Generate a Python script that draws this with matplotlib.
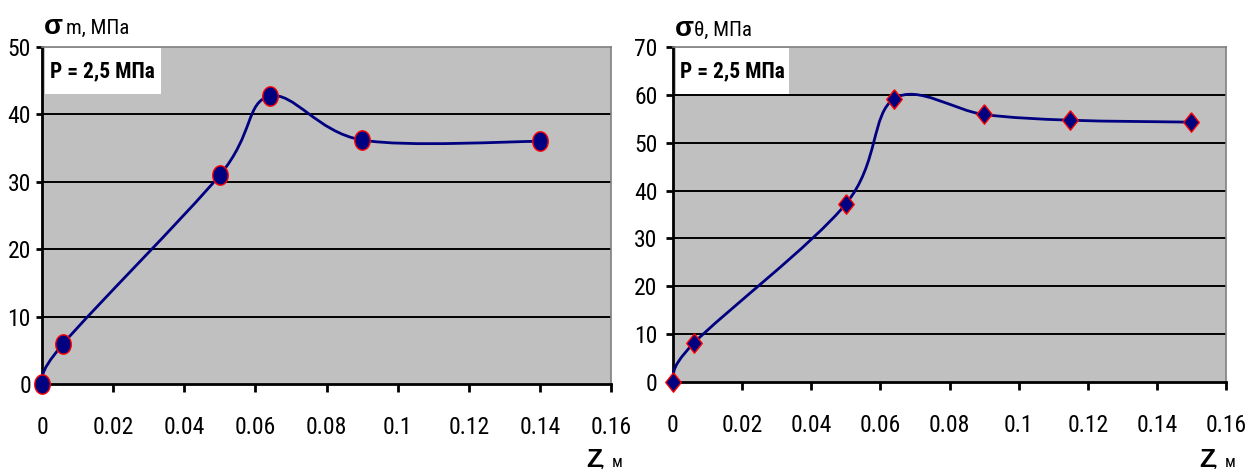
import numpy as np
import matplotlib
matplotlib.use('Agg')
import matplotlib.pyplot as plt
from matplotlib import font_manager
from matplotlib.path import Path
from matplotlib.patches import PathPatch, Rectangle

# data
z_m = [0.0, 0.006, 0.05, 0.064, 0.09, 0.14]
sigma_m = [0.0, 6.0, 31.0, 42.7, 36.2, 36.0]

z_t = [0.0, 0.006, 0.05, 0.064, 0.09, 0.115, 0.15]
sigma_t = [0.0, 8.1, 37.2, 59.2, 55.9, 54.7, 54.3]

x_ticks = [0, 0.02, 0.04, 0.06, 0.08, 0.1, 0.12, 0.14, 0.16]
x_labels = ['0', '0.02', '0.04', '0.06', '0.08', '0.1', '0.12', '0.14', '0.16']
yticks_m = [0, 10, 20, 30, 40, 50]
yticks_t = [0, 10, 20, 30, 40, 50, 60, 70]
box_text = 'P = 2,5 МПа'

W, H = 1256, 470
NAVY = '#000080'
GREY = '#C0C0C0'

# look for a narrow font like excel's arial narrow, fall back to liberation sans
names = {f.name for f in font_manager.fontManager.ttflist}
cond_dejavu = any(f.name == 'DejaVu Sans' and f.stretch == 'condensed'
                  for f in font_manager.fontManager.ttflist)
NARROW = dict(family=['Liberation Sans', 'DejaVu Sans'])
tick_size = 15
for cand in ['Liberation Sans Narrow', 'Roboto Condensed', 'Open Sans Condensed']:
    if cand in names:
        NARROW = dict(family=[cand, 'DejaVu Sans'])
        tick_size = 17
        break
else:
    if cond_dejavu:
        NARROW = dict(family=['DejaVu Sans'], stretch='condensed')
        tick_size = 15
BOLD = ['Liberation Sans', 'DejaVu Sans']


def px(x, y):
    # pixel position -> figure fraction
    return x / W, 1 - y / H


def smooth_path(x, y):
    # excel-like smoothed line: cubic bezier through every point
    pts = np.column_stack([x, y])
    n = len(pts)
    verts = [pts[0]]
    codes = [Path.MOVETO]
    for i in range(n - 1):
        p0 = pts[max(i - 1, 0)]
        p1 = pts[i]
        p2 = pts[i + 1]
        p3 = pts[min(i + 2, n - 1)]
        verts += [p1 + (p2 - p0) / 6, p2 - (p3 - p1) / 6, p2]
        codes += [Path.CURVE4] * 3
    return Path(verts, codes)


def setup(ax, yticks, ytick_len, ypad):
    ax.set_facecolor(GREY)
    ax.set_xlim(0, 0.16)
    ax.set_ylim(yticks[0], yticks[-1])
    ax.set_xticks(x_ticks)
    ax.set_xticklabels(x_labels, fontsize=tick_size, **NARROW)
    ax.set_yticks(yticks)
    ax.set_yticklabels([str(v) for v in yticks], fontsize=tick_size, **NARROW)
    ax.tick_params(axis='x', direction='out', length=6, width=2, pad=17)
    ax.tick_params(axis='y', direction='out', length=ytick_len, width=2, pad=ypad)
    for s in ['left', 'bottom']:
        ax.spines[s].set_color('black')
        ax.spines[s].set_linewidth(2)
    for s in ['top', 'right']:
        ax.spines[s].set_color('#808080')
        ax.spines[s].set_linewidth(1.2)
    for v in yticks[1:-1]:
        ax.axhline(v, color='black', lw=1.4, zorder=1)
    ax.add_patch(Rectangle((0.005, 0.86), 0.205, 0.137, transform=ax.transAxes,
                           facecolor='white', edgecolor='none', zorder=2))


fig = plt.figure(figsize=(W / 100, H / 100), dpi=100)

ax1 = fig.add_axes([42 / W, 1 - 384 / H, 569 / W, 337 / H])
ax2 = fig.add_axes([673 / W, 1 - 382 / H, 553 / W, 335 / H])

setup(ax1, yticks_m, 4, 4)
setup(ax2, yticks_t, 5, 6)

# markers: tall ellipse and tall diamond as in the excel picture
ang = np.linspace(0, 2 * np.pi, 25)
ellipse = np.column_stack([0.8 * np.cos(ang), np.sin(ang)])
diamond = [(0, 1), (0.8, 0), (0, -1), (-0.8, 0), (0, 1)]

ax1.add_patch(PathPatch(smooth_path(z_m, sigma_m), fill=False, edgecolor=NAVY,
                        lw=2, zorder=3, clip_on=False))
ax1.plot(z_m, sigma_m, ls='none', marker=ellipse, ms=14, mfc=NAVY, mec='red',
         mew=1, zorder=4, clip_on=False)

ax2.add_patch(PathPatch(smooth_path(z_t, sigma_t), fill=False, edgecolor=NAVY,
                        lw=2, zorder=3, clip_on=False))
ax2.plot(z_t, sigma_t, ls='none', marker=diamond, ms=14, mfc=NAVY, mec='red',
         mew=1, zorder=4, clip_on=False)

# box labels
fig.text(*px(50, 77), box_text, fontsize=tick_size - 1.5, fontweight='bold', va='baseline', **NARROW)
fig.text(*px(680, 77), box_text, fontsize=tick_size - 1.5, fontweight='bold', va='baseline', **NARROW)

# axis titles
fig.text(*px(44, 34), 'σ', family=BOLD, fontsize=20, fontweight='bold', va='baseline')
fig.text(*px(66, 34), 'm, МПа', fontsize=15, va='baseline', **NARROW)
fig.text(*px(675, 36), 'σ', family=BOLD, fontsize=20, fontweight='bold', va='baseline')
fig.text(*px(694, 36), 'θ, МПа', fontsize=15, va='baseline', **NARROW)

fig.text(*px(586, 467), 'Z', family=BOLD, fontsize=19, fontweight='bold', va='baseline')
fig.text(*px(601, 467), ',  м', fontsize=12, va='baseline', **NARROW)
fig.text(*px(1199, 467), 'Z', family=BOLD, fontsize=19, fontweight='bold', va='baseline')
fig.text(*px(1214, 467), ',  м', fontsize=12, va='baseline', **NARROW)

fig.savefig('out.png', dpi=100)
